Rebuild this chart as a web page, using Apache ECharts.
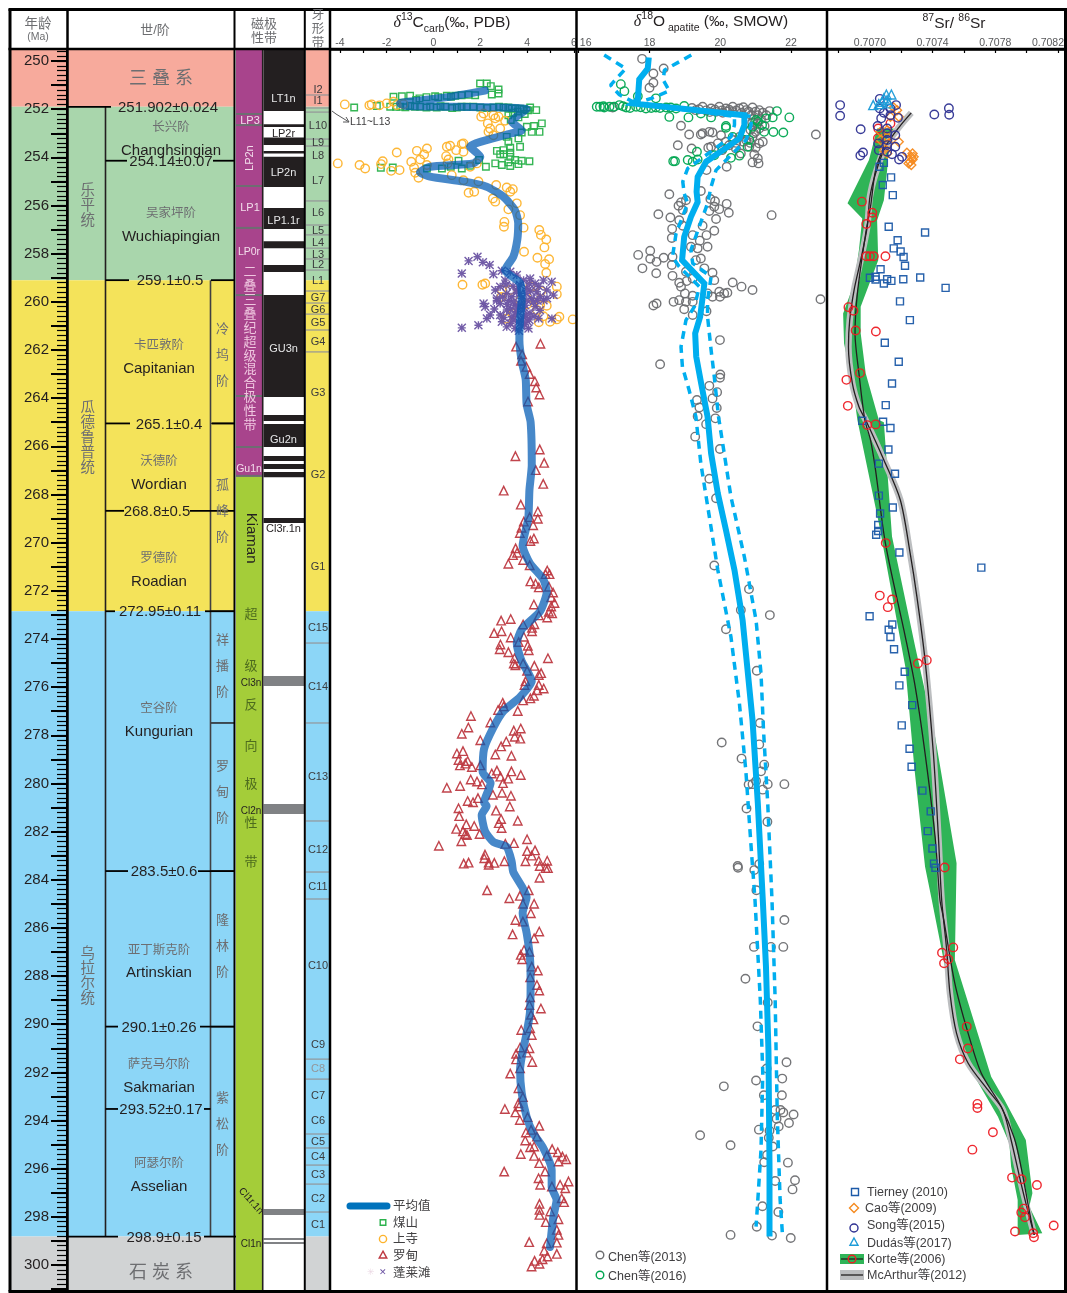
<!DOCTYPE html>
<html><head><meta charset="utf-8">
<style>html,body{margin:0;padding:0;background:#fff}#c{width:1067px;height:1293px}</style>
<script src="https://cdn.jsdelivr.net/npm/echarts@6/dist/echarts.min.js"></script>
</head><body><div id="c"></div>
<script>
// ---------- values: [value, age Ma] ----------
const ageLabels=[250,252,254,256,258,260,262,264,266,268,270,272,274,276,278,280,282,284,286,288,290,292,294,296,298,300];
const periodEdges=[249.5,251.902,259.1,272.85,298.82,301.08];
const epochs=[['乐\n平\n统',255.98],['瓜\n德\n鲁\n普\n统',265.61],['乌\n拉\n尔\n统',287.96]];
const systems=[['三叠系',250.71],['石炭系',300.3]];
const boundaries=[[251.902,'251.902±0.024'],[254.14,'254.14±0.07'],[259.1,'259.1±0.5'],[265.05,'265.1±0.4'],[268.68,'268.8±0.5'],[272.85,'272.95±0.11'],[283.64,'283.5±0.6'],[290.1,'290.1±0.26'],[293.52,'293.52±0.17'],[298.82,'298.9±0.15']];
const stages=[['长兴阶','Changhsingian',252.74,253.7],['吴家坪阶','Wuchiapingian',256.31,257.27],['卡匹敦阶','Capitanian',261.79,262.75],['沃德阶','Wordian',266.61,267.57],['罗德阶','Roadian',270.6,271.59],['空谷阶','Kungurian',276.87,277.82],['亚丁斯克阶','Artinskian',286.88,287.83],['萨克马尔阶','Sakmarian',291.65,292.6],['阿瑟尔阶','Asselian',295.76,296.72]];
const substages=[['冷\n坞\n阶',262.17],['孤\n峰\n阶',268.65],['祥\n播\n阶',275.08],['罗\n甸\n阶',280.32],['隆\n林\n阶',286.71],['紫\n松\n阶',294.14]];
const substageLines=[265.05,272.85,277.49,283.64,290.1];
const magBands=[[249.5,267.23,'purple'],[267.23,301.08,'green']];
const magLines=[252.2,252.66,255.19,256.93,259.72,263.91,266.03,267.23];
const magLabels=[['LP3',252.45,0],['LP2n',253.99,90],['LP1',256.06,0],['LP0r',257.89,0],['Gu1n',266.9,0]];
const magMixed=['二\n叠\n三\n叠\n纪\n超\n级\n混\n合\n极\n性\n带',261.92];
const kiaman=[['Kiaman',269.77,-90,15],['超',272.92,0,13],['级',275.12,0,13],['反',276.74,0,13],['向',278.41,0,13],['极',280.02,0,13],['性',281.64,0,13],['带',283.26,0,13],['Cl3n',275.79,0,10],['Cl2n',281.1,0,10],['Cl1r.1n',297.3,-48,10],['Cl1n',299.09,0,10]];
const polarityNormal=[[249.5,252.08],[252.62,252.74],[253.18,253.49],[253.74,253.84],[253.97,255.23],[256.1,256.98],[257.48,257.77],[258.47,258.76],[259.72,263.95],[264.7,264.95],[265.07,266.03],[266.4,266.61],[266.74,266.94],[267.07,267.28],[268.98,269.19]];
const polarityGray=[[275.54,275.95],[280.85,281.27],[297.67,297.92],[298.88,298.96],[299.04,299.13]];
const polarityLabels=[['LT1n',251.54,1],['LP2r',253.0,0],['LP2n',254.61,1],['LP1.1r',256.6,1],['GU3n',261.92,1],['Gu2n',265.7,1],['Cl3r.1n',269.4,0]];
const zoneLines=[251.41,251.95,252.12,253.24,253.53,255.81,256.81,257.22,257.77,258.22,258.68,259.55,260.05,260.51,261.17,262.08,274.17,277.49,281.56,283.68,284.8,291.45,292.28,294.56,295.14,295.85,296.64,297.8];
const zoneLabels=[['I2',251.16],['I1',251.62],['L10',252.66],['L9',253.36],['L8',253.9],['L7',254.94],['L6',256.27],['L5',257.02],['L4',257.52],['L3',258.01],['L2',258.43],['L1',259.09],['G7',259.8],['G6',260.3],['G5',260.84],['G4',261.63],['G3',263.75],['G2',267.15],['G1',270.97],['C15',273.5],['C14',275.95],['C13',279.69],['C12',282.72],['C11',284.26],['C10',287.54],['C9',290.82],['C8',291.82],['C7',292.94],['C6',293.98],['C5',294.85],['C4',295.47],['C3',296.22],['C2',297.22],['C1',298.3]];

// δ13C
const c13Mean=[[2.2,251.23],[0.6,251.5],[-1.43,251.76],[-1.15,251.87],[3.98,252.0],[3.34,252.52],[3.77,252.87],[3.34,253.0],[1.56,253.56],[2.0,253.97],[1.7,254.25],[-0.15,254.39],[-0.58,254.62],[-0.15,254.8],[1.27,255.0],[2.27,255.22],[2.98,255.63],[3.48,256.19],[3.62,256.74],[3.58,257.43],[3.41,258.13],[3.06,258.68],[3.7,259.22],[3.77,259.93],[3.7,260.76],[3.67,261.59],[3.77,262.47],[3.94,263.22],[3.98,264.26],[4.15,264.99],[4.2,266.78],[4.1,267.82],[4.05,269.0],[3.81,270.12],[4.12,270.86],[4.69,271.52],[4.84,272.04],[4.55,272.86],[3.77,273.6],[3.56,274.19],[3.77,274.93],[4.2,275.75],[3.7,276.41],[2.98,277.01],[2.56,277.68],[2.16,278.57],[2.1,279.53],[2.44,279.98],[2.16,280.79],[2.27,280.94],[2.06,281.31],[2.2,281.98],[2.56,282.43],[3.13,282.64],[3.34,283.24],[3.41,283.68],[3.98,284.72],[3.81,285.38],[3.98,286.21],[4.12,287.21],[4.15,288.29],[4.12,289.53],[3.98,290.37],[3.77,291.36],[3.7,291.9],[3.77,292.86],[3.98,293.85],[4.26,294.52],[4.69,295.14],[5.05,296.05],[5.05,296.76],[5.26,297.3],[5.12,298.0],[4.98,299.25]];
const c13Meishan=[[1.99,250.93],[2.28,250.93],[2.45,251.04],[2.78,251.18],[2.78,251.35],[2.49,251.39],[1.78,251.42],[0.57,251.44],[0.07,251.46],[0.93,251.44],[-1,251.44],[-1.35,251.46],[-1.71,251.48],[-0.74,251.62],[-3.39,251.93],[-2.42,251.87],[-1.85,251.9],[-1.42,251.9],[-1,251.87],[-0.57,251.9],[-0.14,251.9],[0.14,251.93],[0.5,251.9],[1,251.93],[1.42,251.9],[2,251.93],[2.56,251.93],[2.99,251.93],[3.35,251.97],[3.7,251.98],[3.99,252.04],[4.39,252.04],[4.13,251.93],[3.2,252.25],[3.63,252.34],[3.99,252.73],[4.3,252.7],[4.63,252.59],[4.2,252.94],[4.53,252.94],[3.77,252.97],[3.13,253.15],[3.2,253.35],[3.63,253.21],[3.7,253.56],[3.28,253.6],[2.99,253.7],[2.71,253.73],[3.28,253.81],[2.85,253.87],[3.0,253.87],[3.28,253.98],[4.1,254.16],[3.77,254.14],[3.49,254.11],[3.2,254.21],[2.64,254.25],[2.92,254.32],[3.28,254.36],[3.63,254.28],[2.24,254.39],[1.95,254.11],[1.07,254.14],[1.57,254.35],[1.21,254.46],[-0.28,254.46],[-1.74,254.42],[-2.25,254.43],[0.36,254.46],[0.74,254.39],[0.3,251.88],[0.8,251.95],[1.2,251.9],[1.7,251.9],[2.3,251.95],[2.8,251.9],[3.2,251.93],[3.5,251.97],[3.85,252.0],[4.05,252.05],[3.9,252.2],[3.6,252.1],[3.3,252.45],[3.4,252.15],[-0.3,251.93],[-0.8,251.9],[-1.2,251.92],[-1.6,251.9],[0.2,251.5],[0.75,251.48],[1.2,251.42],[1.5,251.4],[-0.3,251.5],[-0.6,251.55]];
const c13Shangsi=[[-3.79,251.8],[-4.09,254.25],[-3.16,254.32],[-2.92,254.46],[-2.74,251.84],[-2.64,251.8],[-2.31,251.84],[-2,251.76],[-1.71,251.69],[-1.57,251.83],[-1.28,251.79],[-2.17,254.16],[-2.24,254.28],[-1.81,254.56],[-1.45,254.53],[-1.57,253.8],[-0.95,254.18],[-0.71,253.73],[-0.57,254.09],[-0.4,253.88],[-0.28,253.63],[-0.83,254.43],[-0.78,254.64],[-0.64,254.85],[-0.28,254.32],[0.57,253.56],[0.71,253.52],[0.54,253.95],[0.64,254.09],[0.6,254.25],[1.21,253.45],[1.28,253.42],[0.97,253.7],[1.28,253.77],[1.85,254.25],[1.57,254.39],[0.78,254.74],[1.28,254.95],[1.92,255.0],[1.5,255.47],[1.74,255.43],[2.68,255.15],[2.54,255.71],[2.64,255.84],[3.13,255.25],[3.39,255.32],[3.28,255.43],[3.56,255.91],[3.2,256.16],[3.7,256.4],[3.03,256.68],[3.01,256.88],[3.85,256.92],[4.52,257.02],[4.59,257.22],[4.82,257.41],[4.74,257.74],[3.87,257.92],[4.44,258.17],[4.94,258.23],[4.77,258.43],[4.82,258.79],[1.24,259.29],[2.09,259.29],[2.21,259.24],[2.92,259.51],[5.27,259.37],[5.27,259.68],[4.84,260.16],[4.56,260.14],[4.42,260.34],[4.13,259.37],[3.28,259.51],[4.98,260.83],[5.27,260.73],[5.38,260.62],[5.95,260.73],[2.04,252.31],[2.14,252.18],[2.56,252.25],[2.78,252.31],[2.32,252.59],[2.42,252.8],[2.85,252.8],[2.56,253.08],[2.35,252.94],[2.64,252.38],[3.06,252.48],[4.3,259.7],[4.6,259.55],[4.0,260.1],[3.4,260.5],[4.7,260.6],[2.9,259.8],[3.1,260.7],[4.5,260.85],[3.7,259.95]];
const c13Luodian=[[3.53,261.86],[4.57,261.74],[3.79,262.18],[3.74,262.45],[3.97,262.7],[4.11,263.0],[4.33,263.3],[4.39,263.56],[4.53,263.85],[4.04,264.14],[4.54,266.13],[3.5,266.41],[4.73,266.69],[4.37,266.99],[4.69,267.56],[3.0,267.84],[3.73,268.42],[4.46,268.71],[4.46,269.01],[4.11,268.94],[3.86,269.13],[4.26,269.28],[3.76,269.38],[3.69,269.6],[4.29,269.83],[4.14,269.93],[3.51,270.24],[3.57,270.42],[3.4,270.52],[3.83,270.72],[3.2,270.88],[4.11,270.94],[4.86,271.16],[4.79,271.31],[4.96,271.31],[4.14,271.61],[4.36,271.71],[4.5,271.86],[4.93,271.83],[5.11,272.07],[5.03,272.27],[5.17,272.51],[4.29,272.57],[5.03,272.65],[4.93,272.87],[5.07,272.94],[4.5,273.02],[4.86,273.11],[3.3,273.17],[2.89,273.24],[3.83,273.4],[4.31,273.39],[4.21,273.54],[4.21,273.68],[2.59,273.76],[2.91,273.68],[3.86,273.91],[3.3,273.94],[2.86,274.23],[3.64,274.13],[4.03,274.28],[2.83,274.43],[3.2,274.55],[4.07,274.47],[3.46,274.8],[3.43,275.02],[3.5,275.09],[4.89,274.8],[3.83,275.02],[4.31,275.12],[4.0,275.32],[4.6,275.42],[4.5,275.5],[3.93,275.76],[3.89,275.91],[4.5,275.91],[4.71,276.06],[4.43,276.13],[4.29,276.36],[4.14,276.47],[3.83,276.55],[2.96,276.65],[3.0,276.8],[2.76,276.95],[3.6,276.99],[1.6,277.2],[2.43,277.47],[1.49,277.68],[3.73,277.72],[3.43,277.81],[1.21,277.94],[3.47,278.06],[3.71,278.14],[2.0,278.21],[3.11,278.26],[2.89,278.46],[1.26,278.66],[1.0,278.76],[2.64,278.8],[3.33,278.85],[1.07,279.03],[1.46,279.07],[1.36,279.18],[1.13,279.25],[1.64,279.32],[2.0,279.25],[2.71,279.47],[3.33,279.5],[2.49,279.59],[3.73,279.65],[2.86,279.72],[3.19,279.8],[1.59,279.84],[1.86,279.92],[2.97,279.99],[2.07,280.04],[1.14,280.11],[0.57,280.18],[2.93,280.39],[2.54,280.47],[3.31,280.51],[1.9,280.61],[1.46,280.73],[1.69,280.78],[3.26,280.96],[1.07,281.03],[2.67,281.13],[1.1,281.36],[2.89,281.48],[2.79,281.65],[1.4,281.7],[3.6,281.55],[2.91,281.85],[0.97,281.89],[1.74,281.77],[1.26,281.99],[1.36,282.1],[1.43,282.14],[1.97,282.1],[4.0,282.32],[1.19,282.4],[3.44,282.48],[0.23,282.59],[3.07,282.51],[4.0,282.81],[4.34,282.78],[4.2,283.0],[2.2,282.96],[2.17,283.11],[2.36,283.29],[2.6,283.3],[1.5,283.29],[1.29,283.33],[2.36,283.38],[3.03,283.23],[3.93,283.23],[4.5,283.21],[4.86,283.21],[4.54,283.43],[4.79,283.52],[4.89,283.52],[4.53,283.92],[2.29,284.44],[4.07,284.44],[3.24,284.77],[3.69,284.67],[3.82,285.0],[4.3,285.0],[4.16,285.39],[3.5,285.67],[3.82,285.74],[4.52,286.15],[3.38,286.27],[4.3,286.43],[3.87,286.92],[4.1,286.99],[3.73,287.12],[3.79,287.3],[4.2,287.61],[4.46,287.77],[4.13,288.05],[4.42,288.37],[4.52,288.6],[4.13,288.88],[4.1,289.2],[4.59,289.35],[4.17,289.61],[4.27,289.8],[3.75,290.24],[4.13,290.17],[4.2,290.45],[4.1,291.0],[3.7,290.97],[3.53,291.23],[3.99,291.18],[3.53,291.46],[4.22,291.57],[3.7,291.83],[3.28,292.05],[3.63,292.66],[3.82,293.03],[3.63,293.28],[3.66,293.42],[3.05,293.52],[3.5,293.66],[3.69,293.98],[4.02,293.86],[4.52,294.22],[4.17,294.39],[3.95,294.5],[3.92,294.83],[4.42,294.67],[4.13,295.11],[4.3,295.08],[5.07,295.19],[3.73,295.39],[4.3,295.47],[4.84,295.47],[5.31,295.32],[5.51,295.5],[5.67,295.61],[5.34,295.7],[4.52,295.77],[3.02,296.12],[4.77,296.12],[4.49,296.4],[4.56,296.67],[5.41,296.67],[5.77,296.53],[5.06,296.74],[5.63,296.81],[5.48,297.23],[5.58,297.39],[4.53,297.46],[4.53,297.71],[4.53,297.92],[4.99,297.78],[5.34,298.1],[4.8,298.22],[5.27,298.54],[5.34,298.75],[4.09,299.05],[4.84,299.1],[5.27,299.07],[4.73,299.41],[5.27,299.54],[4.87,299.65],[4.66,299.76],[4.32,299.83],[4.53,299.95],[4.19,300.06]];
const c13Penglaitan=[[1.5,258.3],[1.88,258.13],[2.11,258.36],[2.4,258.47],[1.21,258.82],[2.56,258.85],[2.92,258.71],[3.28,258.75],[3.56,258.89],[4.13,259.03],[4.7,259.1],[5.05,259.17],[3.06,259.1],[3.85,259.1],[4.34,259.24],[2.64,259.51],[2.85,259.37],[3.13,259.65],[3.56,259.51],[3.99,259.44],[4.42,259.58],[4.84,259.51],[2.71,259.86],[3.35,259.79],[3.77,259.86],[4.2,259.86],[4.7,259.93],[5.13,259.72],[2.14,260.07],[2.85,260.07],[2.21,260.2],[3.49,260.14],[3.92,260.14],[4.34,260.2],[3.13,260.34],[3.56,260.41],[4.13,260.48],[2.85,260.55],[3.35,260.62],[2.42,260.55],[2.28,260.69],[3.85,260.62],[4.49,260.69],[5.06,260.69],[2.92,260.83],[3.63,260.83],[3.13,261.04],[1.92,260.97],[1.21,261.08],[4.06,261.11],[3.49,261.11],[3.77,260.76],[3.7,259.65],[3.99,259.93],[3.42,260.0],[3.85,260.34],[4.27,260.0],[4.56,259.79],[3.2,259.95],[3.6,260.25],[4.0,260.8],[3.3,260.9],[3.1,259.3],[3.4,259.35],[3.7,259.3],[4.1,259.25],[4.5,259.35],[2.95,259.8],[3.15,260.1],[3.3,260.3],[3.5,260.55],[3.7,260.1],[3.95,260.55],[4.1,260.75],[3.4,260.75],[3.75,261.0],[3.9,260.95],[2.6,260.3],[2.7,259.95],[4.55,260.35],[4.3,260.6],[4.45,259.95],[4.85,259.85],[3.0,260.65],[3.65,261.2],[3.55,259.6],[3.95,259.65],[4.15,259.55]];

// δ18O
const o18Mean=[[17.98,249.85],[17.95,250.31],[17.71,250.76],[17.67,251.62],[17.53,251.76],[20.68,252.25],[20.68,252.66],[20.54,253.21],[20.07,253.7],[19.6,254.18],[19.36,254.81],[19.33,255.43],[19.36,255.85],[19.17,256.47],[18.98,257.3],[18.92,258.27],[19.55,259.24],[19.43,260.62],[19.29,261.31],[19.32,262.28],[19.46,263.39],[19.64,264.77],[19.74,266.29],[19.93,267.96],[20.16,269.48],[20.4,271.14],[20.63,273.22],[20.77,275.29],[20.91,277.37],[21.06,280.83],[21.2,284.84],[21.29,287.61],[21.36,291.07],[21.39,295.91],[21.39,298.82]];
const o18Left=[[16.72,249.75],[17.33,250.31],[16.9,251.0],[17.15,251.4],[17.62,251.76],[20.4,252.3],[20.4,252.66],[20.3,253.15],[19.7,253.8],[19.08,254.46],[18.94,255.01],[18.98,255.5],[19.08,255.91],[18.75,257.16],[18.65,258.13],[18.84,258.54],[19.41,259.37],[19.27,260.2],[19.03,260.76],[18.89,261.87],[18.93,262.7],[19.12,263.67],[19.31,264.77],[19.45,266.71],[19.69,268.92],[19.93,271.14],[20.3,273.91],[20.54,276.68],[20.72,279.45],[20.87,282.63],[20.98,284.84],[21.13,288.99],[21.2,292.04],[21.15,295.22],[21.06,297.3],[21.01,298.41]];
const o18Right=[[19.18,249.75],[18.42,250.38],[18.39,250.79],[18.56,251.24],[18.05,251.55],[17.62,251.76],[20.87,252.3],[20.87,252.66],[20.73,253.28],[19.88,254.53],[19.74,255.22],[19.64,255.91],[19.4,256.9],[19.17,257.85],[19.22,258.4],[19.74,258.96],[19.64,259.93],[19.64,260.62],[19.74,262.0],[19.83,263.11],[19.95,264.77],[20.3,268.09],[20.68,270.59],[21.01,273.22],[21.15,275.43],[21.22,277.78],[21.34,280.83],[21.46,284.84],[21.55,288.99],[21.61,293.84],[21.69,297.3],[21.76,298.82]];
const o18Chen2013=[[17.79,249.91],[18.4,250.31],[18.11,250.52],[18.11,250.9],[18.0,251.11],[16.96,251.93],[19.31,252.04],[19.5,251.9],[19.74,251.97],[19.97,251.9],[20.16,251.97],[20.35,251.9],[20.54,251.97],[20.73,252.04],[20.91,251.93],[21.1,252.04],[21.39,252.08],[20.87,252.25],[21.06,252.25],[19.88,252.11],[20.07,252.15],[20.35,252.11],[18.89,252.69],[19.12,253.05],[19.45,253.05],[19.5,253.0],[19.69,252.94],[19.78,252.97],[20.02,253.08],[22.7,253.05],[18.8,253.5],[19.19,253.63],[19.74,253.56],[19.66,253.6],[19.93,253.42],[20.16,253.35],[20.35,253.28],[20.54,253.15],[20.73,253.28],[20.91,253.15],[21.1,253.42],[21.2,253.35],[21.0,252.94],[20.82,253.56],[20.44,253.63],[20.58,253.84],[20.96,253.88],[21.06,254.05],[20.91,254.21],[21.08,254.25],[20.18,254.39],[19.61,254.53],[18.56,255.53],[19.45,255.4],[19.72,255.73],[19.85,255.82],[20.18,255.93],[19.03,255.78],[18.89,255.87],[18.82,256.01],[18.94,256.19],[19.97,256.15],[19.83,256.05],[19.69,256.23],[20.24,256.3],[21.45,256.4],[18.25,256.36],[18.59,256.5],[19.88,256.56],[18.84,256.61],[18.94,256.84],[19.5,256.84],[18.64,256.97],[19.83,257.05],[19.22,257.23],[19.61,257.23],[18.63,257.35],[19.42,257.46],[19.64,257.71],[19.17,257.71],[19.36,257.78],[18.02,257.88],[17.68,258.05],[18.02,258.21],[18.2,258.34],[18.4,258.17],[18.65,258.13],[19.45,258.2],[19.31,258.27],[18.63,258.47],[17.8,258.61],[18.19,258.81],[18.65,258.92],[19.03,258.75],[19.55,258.61],[19.78,258.79],[19.83,259.1],[19.22,259.03],[19.05,259.14],[18.84,259.21],[18.89,259.37],[20.35,259.2],[20.6,259.37],[20.91,259.51],[19.97,259.58],[20.11,259.65],[20.2,259.62],[19.99,259.79],[19.78,259.79],[19.64,259.65],[19.0,259.65],[19.22,259.75],[18.68,260.0],[18.84,259.93],[19.03,260.0],[19.22,260.0],[18.2,260.07],[18.11,260.15],[22.83,259.89],[18.98,260.31],[19.61,260.39],[19.22,260.55],[19.99,261.59],[18.3,262.59],[20.0,263.02],[19.99,263.15],[19.69,263.49],[19.91,263.75],[19.78,264.01],[19.34,264.08],[19.41,264.39],[19.9,264.41],[19.36,264.75],[19.86,264.84],[19.6,265.08],[19.29,265.6],[19.99,266.11],[19.69,267.35],[19.88,268.16],[19.83,270.95],[20.81,271.93],[20.58,272.8],[21.4,273.01],[20.16,273.6],[21.03,275.32],[21.12,277.49],[20.04,278.3],[21.1,278.38],[20.6,278.97],[21.24,279.22],[21.15,279.5],[21.01,279.9],[20.91,280.03],[20.8,280.05],[21.34,280.03],[21.81,280.03],[21.2,280.26],[20.74,281.04],[21.33,281.59],[20.49,283.43],[20.5,283.5],[20.96,283.6],[21.1,283.35],[21.02,284.44],[21.81,285.67],[20.95,286.79],[21.43,286.79],[21.78,286.79],[20.71,288.11],[21.34,289.1],[21.05,290.09],[21.87,291.58],[21.31,291.84],[21.01,292.34],[21.75,292.26],[20.1,292.58],[21.23,292.95],[21.74,292.95],[21.55,293.56],[21.7,293.56],[21.78,293.67],[22.07,293.75],[21.59,293.93],[21.94,294.1],[21.65,294.25],[21.09,294.38],[21.39,294.42],[21.37,294.72],[19.43,294.61],[20.29,295.03],[21.48,295.08],[21.32,295.43],[21.24,295.73],[21.91,295.75],[21.55,296.51],[22.11,296.48],[22.04,296.86],[21.19,297.56],[21.64,297.8],[21.03,298.41],[20.29,298.75],[21.46,298.78],[21.99,298.88],[19.2,251.95],[19.4,252.0],[19.6,252.05],[19.85,252.02],[20.05,252.05],[20.25,252.02],[20.45,252.05],[20.65,251.92],[20.8,252.1],[21.0,252.1],[21.2,252.15],[21.3,252.25],[20.6,252.15],[20.2,252.1],[19.7,252.12],[21.15,252.42],[20.95,252.4],[21.05,252.6],[20.9,252.55],[21.1,252.8],[20.85,252.85],[21.25,252.7],[20.95,253.0],[20.65,253.35],[20.45,253.4],[20.25,253.5],[20.05,253.7],[20.85,253.4],[21.0,253.6]];
const o18Chen2016=[[17.19,250.96],[17.29,251.25],[17.67,251.46],[18.18,251.55],[16.51,251.9],[16.6,251.9],[16.72,251.93],[16.87,251.9],[17.15,251.83],[17.34,251.93],[17.62,251.9],[17.9,251.97],[18.18,251.93],[18.47,251.93],[18.75,251.97],[18.98,251.87],[19.45,252.18],[18.56,252.32],[19.1,252.34],[19.74,252.34],[20.16,252.7],[20.16,252.77],[21.6,252.08],[21.95,252.34],[21.48,252.34],[21.29,252.38],[21.06,252.52],[21.5,252.95],[21.78,252.97],[21.24,252.94],[20.91,252.73],[20.73,252.94],[20.82,253.28],[20.35,253.15],[20.07,253.63],[19.83,253.91],[20.54,253.93],[20.3,254.02],[19.34,253.77],[19.08,254.11],[19.22,254.18],[19.36,254.09],[18.67,254.16],[18.72,254.16],[20.77,253.56],[21.01,252.45],[21.18,252.66],[17.0,251.9],[17.25,251.88],[17.45,251.95],[17.75,251.92],[18.05,251.95],[18.3,251.95],[18.6,251.93],[16.7,251.88]];

// 87Sr/86Sr
const srMcArthur=[[0.707264,252.15],[0.707188,252.73],[0.707099,253.56],[0.707036,254.67],[0.7070,255.64],[0.706983,256.88],[0.706941,258.27],[0.706899,259.51],[0.706871,260.76],[0.706863,261.87],[0.706888,263.39],[0.70693,264.36],[0.706973,264.91],[0.707089,266.57],[0.707194,268.23],[0.707257,270.45],[0.7073,272.25],[0.707352,274.88],[0.707405,278.75],[0.707437,282.21],[0.707458,284.84],[0.70749,286.92],[0.707511,288.72],[0.707553,290.38],[0.707627,291.62],[0.707753,292.73],[0.707848,293.56],[0.707901,294.81],[0.707964,296.6],[0.708006,297.71],[0.708049,298.75]];
const srKorte=[[0.707089,253.56],[0.707036,254.53],[0.707004,256.05],[0.706973,257.16],[0.70692,259.65],[0.706905,261.31],[0.70693,262.97],[0.706968,264.91],[0.707004,265.74],[0.707036,266.99],[0.707099,270.03],[0.707226,273.91],[0.707289,275.98],[0.707352,278.75],[0.707416,282.21],[0.707447,284.84],[0.707468,285.53],[0.707542,288.3],[0.707627,290.38],[0.707711,292.04],[0.707838,293.42],[0.707922,294.74],[0.707964,295.91],[0.708028,298.13],[0.708049,298.75]];
const srBandLeft=[[0.707046,252.8],[0.706994,254.11],[0.706857,255.91],[0.706951,256.54],[0.70693,257.85],[0.706899,259.24],[0.706829,260.48],[0.706835,261.73],[0.706888,263.39],[0.70692,264.91],[0.707057,269.2],[0.707226,275.15],[0.707285,279.44],[0.707352,283.46],[0.707395,284.84],[0.707458,286.92],[0.707521,289.0],[0.707553,290.65],[0.707669,292.18],[0.707817,293.84],[0.70789,294.95],[0.707901,295.91],[0.707943,297.3],[0.707943,298.75]];
const srBandRight=[[0.707152,252.8],[0.70712,253.56],[0.70711,254.53],[0.707089,255.78],[0.707046,256.61],[0.707053,258.27],[0.706941,260.2],[0.706941,261.31],[0.706973,262.97],[0.707057,264.91],[0.707089,265.0],[0.707141,269.75],[0.707289,274.32],[0.707416,278.06],[0.707553,283.32],[0.707549,284.84],[0.707542,287.33],[0.707648,289.55],[0.707774,292.18],[0.707859,293.15],[0.707995,294.81],[0.708037,297.02],[0.708017,297.57],[0.7081,298.68]];
const srTierney=[[0.707089,254.23],[0.707061,254.39],[0.707135,254.83],[0.707082,255.15],[0.707146,255.57],[0.70712,256.88],[0.707352,257.12],[0.707177,257.44],[0.707152,257.78],[0.707196,257.91],[0.707215,258.14],[0.707224,258.5],[0.707068,258.65],[0.707321,258.99],[0.707213,259.06],[0.7070,259.0],[0.707036,258.96],[0.707036,259.07],[0.70711,259.06],[0.707137,259.13],[0.707089,259.24],[0.707483,259.42],[0.707192,259.98],[0.707255,260.76],[0.707095,261.7],[0.707184,262.49],[0.707141,263.39],[0.707101,264.29],[0.706951,264.94],[0.707084,264.98],[0.707131,265.24],[0.707118,266.13],[0.707057,266.72],[0.70716,267.14],[0.707057,268.05],[0.707146,268.54],[0.707065,268.79],[0.707053,269.27],[0.707053,269.52],[0.70704,269.67],[0.707188,270.41],[0.707711,271.04],[0.706998,273.06],[0.707143,273.4],[0.70712,273.62],[0.707131,273.92],[0.707154,274.43],[0.707222,275.36],[0.707188,275.93],[0.70727,276.75],[0.707203,277.59],[0.707253,278.56],[0.707266,279.31],[0.707335,280.3],[0.707388,281.16],[0.707369,281.98],[0.707399,282.7],[0.707409,283.33],[0.707418,283.5]];
const srKorteDots=[[0.707053,252.8],[0.707131,252.59],[0.707051,253.21],[0.706949,255.84],[0.707015,256.3],[0.707015,256.5],[0.706977,256.77],[0.706977,258.11],[0.7070,258.11],[0.707025,258.11],[0.707099,258.11],[0.706863,260.22],[0.706895,260.37],[0.706909,261.19],[0.707038,261.23],[0.706937,262.96],[0.70685,263.24],[0.706859,264.32],[0.706983,265.12],[0.707036,265.09],[0.707101,270.02],[0.707063,272.2],[0.707141,272.36],[0.707114,272.68],[0.707363,274.88],[0.707306,275.02],[0.707477,283.49],[0.707532,286.81],[0.70746,287.03],[0.7075,287.3],[0.707473,287.47],[0.707618,290.1],[0.707625,291.01],[0.707574,291.46],[0.707686,293.31],[0.707686,293.48],[0.707785,294.49],[0.707654,295.21],[0.707907,296.37],[0.707968,296.44],[0.708066,296.68],[0.707981,297.66],[0.707966,297.82],[0.707989,298.02],[0.707926,298.61],[0.708173,298.36],[0.708042,298.68],[0.708047,298.85]];
const srSong=[[0.70681,251.83],[0.70681,252.27],[0.706941,252.83],[0.707063,251.57],[0.707063,251.97],[0.707089,252.15],[0.707131,251.97],[0.707167,251.83],[0.707179,252.36],[0.707131,252.25],[0.707072,252.38],[0.707411,252.22],[0.707504,251.96],[0.707506,252.23],[0.707049,252.7],[0.70711,252.8],[0.70711,253.0],[0.707162,253.08],[0.70711,253.28],[0.707053,253.42],[0.70711,253.49],[0.707162,253.56],[0.707057,253.7],[0.70711,253.77],[0.706956,253.8],[0.706939,253.92],[0.707141,253.87],[0.707205,253.98],[0.707186,254.09]];
const srCao=[[0.707152,251.93],[0.707173,252.04],[0.707131,252.31],[0.707184,252.31],[0.707068,252.94],[0.70711,252.87],[0.70711,253.15],[0.707068,253.28],[0.70712,253.42],[0.707184,253.35],[0.707089,253.7],[0.70711,253.84],[0.707236,253.81],[0.707272,253.84],[0.707264,253.98],[0.707272,254.09],[0.707257,254.18],[0.707279,253.98],[0.707264,254.32],[0.707247,254.25]];
const srDudas=[[0.707021,251.83],[0.707057,251.79],[0.707078,251.69],[0.707105,251.39],[0.707137,251.39],[0.70711,251.62],[0.707089,251.55],[0.70712,251.76]];

// ---------- layout and style (not data) ----------
const FONT='"Liberation Sans","Noto Sans CJK SC",sans-serif';
const TOP=49,H=1242,YMIN=249.5,YMAX=301.08;
const INK='#231F20',CN='#6D6E71';
const PERIOD=['#F7AA9C','#A9D6AC','#F4E35A','#8CD6F7','#D1D3D4'];
const X={ageL:11,ageR:67,epochL:68,stageL:105.5,subL:210.5,stageR:234,magL:236,magR:262,polL:263.5,polR:304,zoneL:306,zoneR:330};
const BOUNDARY_LAYOUT={ // label centre x and line segments, px
 '251.902':[168,[[68,111]]],'254.14':[171,[[105.5,127],[213,234]]],'259.1':[170,[[105.5,129],[211,234]]],
 '265.1':[169,[[105.5,130],[212,234]]],'268.8':[157,[[105.5,124],[190,234]]],'272.95':[160,[[105.5,115],[205,234]]],
 '283.5':[164,[[105.5,128],[198,234]]],'290.1':[159,[[105.5,118],[200,234]]],'293.52':[161,[[105.5,118],[204,210.5]]],'298.9':[164,[[68,118],[204,236]]]};

const grids=[{left:11,width:56},{left:11,width:319},{left:331,width:245},{left:578.7,width:248.3},{left:828,width:238},{left:11,width:56}]
 .map(g=>({...g,top:TOP,height:H,containLabel:false}));
const hidX=i=>({type:'value',gridIndex:i,min:0,max:1,show:false});
const hidY=i=>({type:'value',gridIndex:i,min:YMIN,max:YMAX,inverse:true,show:false});
const range=(a,b,s)=>{const o=[];for(let i=0;a+i*s<=b+1e-9;i++)o.push(+(a+i*s).toFixed(6));return o;};
const topAxis=(i,min,max,labels,ticks,fmt)=>({type:'value',gridIndex:i,position:'top',min,max,z:10,splitLine:{show:false},
 axisLine:{show:true,onZero:false,lineStyle:{color:'#000',width:2.5}},
 axisTick:{show:true,inside:true,length:4,customValues:ticks,lineStyle:{color:'#000',width:1.2}},
 axisLabel:{show:true,customValues:labels,margin:1,fontFamily:FONT,fontSize:10.5,color:'#58595B',formatter:fmt,
   rich:{l:{fontFamily:FONT,fontSize:10.5,color:'#58595B',padding:[0,0,0,14]},r:{fontFamily:FONT,fontSize:10.5,color:'#58595B',padding:[0,20,0,0]}}}});

const xAxes=[hidX(0),hidX(1),
 topAxis(2,-4.38,6.09,[-4,-2,0,2,4,6],range(-4,6,1),v=>String(v)),
 topAxis(3,16,23.014,[16,18,20,22],[16,18,20,22],v=>v===16?'{l|16}':String(v)),
 topAxis(4,0.7067325,0.7082375,[0.7070,0.7074,0.7078,0.7082],range(0.7068,0.7082,0.0002),v=>v>0.70815?'{r|0.7082}':v.toFixed(4)),
 hidX(5)];
const yAxes=[
 {type:'value',gridIndex:0,min:YMIN,max:YMAX,inverse:true,position:'right',z:10,splitLine:{show:false},
  axisLine:{show:true,onZero:false,lineStyle:{color:'#000',width:2}},
  axisTick:{show:true,inside:true,length:16,customValues:range(250,301,1),lineStyle:{color:'#000',width:2}},
  axisLabel:{show:true,inside:true,margin:18,padding:[2,0,0,0],customValues:ageLabels,fontFamily:FONT,fontSize:15,color:INK}},
 {type:'value',gridIndex:5,min:YMIN,max:YMAX,inverse:true,position:'right',z:10,splitLine:{show:false},
  axisLine:{show:false,onZero:false},axisLabel:{show:false},
  axisTick:{show:true,inside:true,length:10,customValues:range(249.6,301,0.2),lineStyle:{color:'#000',width:1.2}}},
 hidY(1),hidY(2),hidY(3),hidY(4)];

// custom layer helper: y through the axis, column x from layout
function layer(rows,draw,z,xi=1,yi=2){
 return {type:'custom',coordinateSystem:'cartesian2d',xAxisIndex:xi,yAxisIndex:yi,z,silent:true,clip:false,
  data:rows.map(()=>[0.5,260]),
  renderItem:(p,api)=>draw(rows[p.dataIndex],a=>api.coord([0.5,a])[1],api)};
}
const rect=(x0,x1,y0,y1,fill)=>({type:'rect',shape:{x:x0,y:y0,width:x1-x0,height:y1-y0},style:{fill}});
const hline=(x0,x1,y,stroke,w)=>({type:'line',shape:{x1:x0,y1:y,x2:x1,y2:y},style:{stroke,lineWidth:w}});
const txt=(s,x,y,size,fill,o={})=>({type:'text',x,y:y+1,rotation:(o.rot||0)*Math.PI/180,style:{text:s,fill,fontFamily:FONT,fontSize:size,align:'center',verticalAlign:'middle',lineHeight:o.lh}});

const periodRows=PERIOD.map((c,i)=>[periodEdges[i],periodEdges[i+1],c]);
const series=[
 layer(periodRows,(r,y)=>({type:'group',children:[rect(X.ageL,X.stageR,y(r[0]),y(r[1]),r[2]),rect(X.zoneL,X.zoneR,y(r[0]),y(r[1]),r[2])]}),1),
 layer(magBands,(r,y)=>rect(X.magL,X.magR,y(r[0]),y(r[1]),r[2]==='purple'?'#A8448C':'#A4CD39'),1),
 layer([[YMIN,YMAX]],(r,y)=>rect(X.polL,X.polR,y(r[0]),y(r[1]),'#fff'),1),
 layer(polarityNormal,(r,y)=>rect(X.polL,X.polR,y(r[0]),y(r[1]),INK),2),
 layer(polarityGray,(r,y)=>rect(X.polL,X.polR,y(r[0]),y(r[1]),'#808285'),2),
 layer(magLines,(a,y)=>hline(X.magL,X.magR,y(a),'#6D6E71',2),3),
 layer(zoneLines,(a,y)=>hline(X.zoneL,X.zoneR,y(a),'#939598',1.2),3),
 layer(substageLines,(a,y)=>hline(X.subL,X.stageR,y(a),'#231F20',1.5),3),
 layer([[251.902,298.82]],(r,y)=>({type:'line',shape:{x1:X.stageL,y1:y(r[0]),x2:X.stageL,y2:y(r[1])},style:{stroke:INK,lineWidth:1.6}}),3),
 layer([[259.1,298.82]],(r,y)=>({type:'line',shape:{x1:X.subL,y1:y(r[0]),x2:X.subL,y2:y(r[1])},style:{stroke:'#414042',lineWidth:1.6}}),3),
 layer(boundaries,(r,y)=>{const L=BOUNDARY_LAYOUT[r[1].split('±')[0]];
   return {type:'group',children:[...L[1].map(s=>hline(s[0],s[1],y(r[0]),'#000',1.8)),txt(r[1],L[0],y(r[0]),15,INK)]};},4),
 layer(epochs,(r,y)=>txt(r[0],(X.epochL+X.stageL)/2+1,y(r[1]),14.5,CN,{lh:15}),4),
 layer(systems,(r,y)=>txt(r[0].split('').join(' '),161,y(r[1]),18,CN),4),
 layer(stages,(r,y)=>{const cx=r[2]<259.1?171:159;return {type:'group',children:[txt(r[0],cx,y(r[2]),12.5,CN),txt(r[1],cx,y(r[3]),15,INK)]};},4),
 layer(substages,(r,y)=>txt(r[0],222.5,y(r[1]),13,CN,{lh:26}),4),
 layer(magLabels,(r,y)=>txt(r[0],r[0]==='Gu1n'||r[0]==='LP0r'?249:250,y(r[1]),r[0]==='Gu1n'||r[0]==='LP0r'?10.5:11,'#F3DDEB',{rot:r[2]}),4),
 layer([magMixed],(r,y)=>txt(r[0],250,y(r[1]),13,'#EFC6DF',{lh:13.9}),4),
 layer(kiaman,(r,y)=>txt(r[0],251,y(r[1]),r[3],r[3]>10&&r[0]!=='Kiaman'?'#4D6B1E':'#231F20',{rot:r[2]}),4),
 layer(polarityLabels,(r,y)=>txt(r[0],283.5,y(r[1]),11,r[2]?'#E6E7E8':'#231F20'),4),
 layer(zoneLabels,(r,y)=>txt(r[0],318,y(r[1]),11,r[0]==='C8'?'#939598':'#3A3A3C'),4),

 // δ13C
 sc(2,c13Meishan,'rect',6.5,'#2BB24C'),sc(2,c13Shangsi,'circle',8.5,'#FDB32C'),sc(2,c13Luodian,'triangle',8.5,'#BE3A42'),
 sc(2,c13Penglaitan,'path://M0 0L10 10M10 0L0 10M5 0L5 10M0 5L10 5',8,'#6C54A3'),
 {type:'line',xAxisIndex:2,yAxisIndex:3,data:c13Mean,showSymbol:false,symbol:'none',z:6,smooth:0.2,silent:true,clip:true,lineStyle:{color:'#005AB4',width:8,opacity:0.72,cap:'round',join:'round'}},

 // δ18O
 sc(3,o18Chen2013,'circle',8.5,'#6D6E71',3),sc(3,o18Chen2016,'circle',8.5,'#00A651',3),
 dashed(o18Left),dashed(o18Right),
 {type:'line',xAxisIndex:3,yAxisIndex:4,data:o18Mean,symbol:'none',z:6,silent:true,lineStyle:{color:'#00AEEF',width:6,join:'miter'}},

 // Sr
 {type:'custom',coordinateSystem:'cartesian2d',xAxisIndex:4,yAxisIndex:5,z:2,silent:true,clip:true,data:[[0.7072,260]],
  renderItem:(p,api)=>({type:'polygon',shape:{points:[...srBandLeft,...srBandRight.slice().reverse()].map(d=>api.coord(d))},style:{fill:'#2FB457'}})},
 {type:'line',xAxisIndex:4,yAxisIndex:5,data:srMcArthur,symbol:'none',z:3,smooth:0.3,silent:true,lineStyle:{color:'#BCBEC0',width:6.5}},
 {type:'line',xAxisIndex:4,yAxisIndex:5,data:srMcArthur,symbol:'none',z:4,smooth:0.3,silent:true,lineStyle:{color:INK,width:1.3}},
 {type:'line',xAxisIndex:4,yAxisIndex:5,data:srKorte,symbol:'none',z:4,smooth:0.3,silent:true,lineStyle:{color:INK,width:1.3}},
 sc(4,srTierney,'rect',7,'#1C5AA8',5),sc(4,srKorteDots,'circle',8.5,'#ED1C24',5),sc(4,srCao,'diamond',9,'#F58A1F',5),sc(4,srSong,'circle',8.5,'#2E3192',5),sc(4,srDudas,'triangle',9,'#1C9BD8',5)
];
function sc(i,data,symbol,size,color,z=3){
 const yi=i+1;
 return {type:'scatter',xAxisIndex:i,yAxisIndex:yi,data,symbol,symbolSize:size,z,silent:true,clip:false,
  itemStyle:{color:'rgba(255,255,255,0)',borderColor:color,borderWidth:1.4,opacity:0.95}};
}
function dashed(data){
 return {type:'line',xAxisIndex:3,yAxisIndex:4,data,symbol:'none',z:5,silent:true,lineStyle:{color:'#00AEEF',width:3.5,type:[8,6]}};
}

// ---------- frame, headers, legends ----------
const vline=(x,w,y0=9,y1=1291.5,c='#000')=>({type:'line',z:50,shape:{x1:x,y1:y0,x2:x,y2:y1},style:{stroke:c,lineWidth:w}});
const gh=(x0,x1,y,w,c='#000')=>({type:'line',z:52,shape:{x1:x0,y1:y,x2:x1,y2:y},style:{stroke:c,lineWidth:w}});
const T=(s,x,y,size,fill,align='center',lh)=>({type:'text',z:53,x,y:y+1,style:{text:s,fill,fontFamily:FONT,fontSize:size,align,verticalAlign:'middle',lineHeight:lh}});
const rich=(s,x,y)=>({type:'text',z:53,x,y,style:{text:s,align:'center',verticalAlign:'middle',rich:{
  i:{fontFamily:'"Liberation Serif",serif',fontStyle:'italic',fontSize:16,lineHeight:22,fill:'#231F20'},
  n:{fontFamily:FONT,fontSize:15.5,lineHeight:22,fill:'#231F20'},
  sup:{fontFamily:FONT,fontSize:10.5,lineHeight:11,verticalAlign:'top',fill:'#231F20'},
  sub:{fontFamily:FONT,fontSize:10.5,lineHeight:11,verticalAlign:'bottom',fill:'#231F20'}}}});
const mark=(shape,x,y,r,stroke,w=1.4)=>{
 if(shape==='circle')return {type:'circle',z:53,shape:{cx:x,cy:y,r},style:{fill:'none',stroke,lineWidth:w}};
 if(shape==='rect')return {type:'rect',z:53,shape:{x:x-r,y:y-r,width:2*r,height:2*r},style:{fill:'none',stroke,lineWidth:w}};
 if(shape==='diamond')return {type:'polygon',z:53,shape:{points:[[x,y-r],[x+r,y],[x,y+r],[x-r,y]]},style:{fill:'none',stroke,lineWidth:w}};
 return {type:'polygon',z:53,shape:{points:[[x,y-r],[x+r,y+r*.8],[x-r,y+r*.8]]},style:{fill:'none',stroke,lineWidth:w}};
};
const LEG='#414042';
const graphic=[
 {type:'rect',z:0,shape:{x:0,y:0,width:1067,height:1293},style:{fill:'#fff'}},
 vline(10,3),vline(67.5,2.5),vline(234.5,2),vline(262.7,1.6,49,1291.5,'#231F20'),vline(304.8,2),vline(330,2.5),vline(576.5,2.5),vline(827,2.5),vline(1065.5,3),
 gh(8.5,1067,9.5,3),gh(8.5,1067,1291.5,3),gh(8.5,1067,49,2.5),
 T('年龄',38,23,13.5,CN),T('(Ma)',38,36,10.5,CN),T('世/阶',155,29,13,CN),T('磁极',264,23,13,CN),T('性带',264,37,13,CN),
 T('牙\n形\n带',318,29,12.5,CN,'center',14),
 rich('{i|δ}{sup|13}{n|C}{sub|carb}{n|(‰, PDB)}',452,23),
 rich('{i|δ}{sup|18}{n|O}{sub| apatite}{n| (‰, SMOW)}',711,22),
 rich('{sup|87}{n|Sr/ }{sup|86}{n|Sr}',954,24),
 // L11~L13 note
 {type:'polyline',z:53,shape:{points:[[332,111],[336,114],[349,122]]},style:{fill:'none',stroke:'#58595B',lineWidth:1}},
 {type:'polyline',z:53,shape:{points:[[343,122],[349,122],[346,117]]},style:{fill:'none',stroke:'#58595B',lineWidth:1}},
 T('L11~L13',350,121,10.5,'#414042','left'),
 // δ13C legend
 {type:'line',z:53,shape:{x1:350,y1:1206,x2:387,y2:1206},style:{stroke:'#0072BC',lineWidth:7,lineCap:'round'}},
 T('平均值',393,1206,12.5,LEG,'left'),mark('rect',383,1222.5,2.8,'#2BB24C'),T('煤山',393,1223,12.5,LEG,'left'),
 mark('circle',383,1239,3.6,'#FDB32C'),T('上寺',393,1239,12.5,LEG,'left'),mark('tri',383,1255,3.8,'#BE3A42'),T('罗甸',393,1256,12.5,LEG,'left'),
 T('✳',371,1272,9,'#EBD9E4'),T('✕',383,1272,9,'#6C54A3'),T('蓬莱滩',393,1273,12.5,LEG,'left'),
 // δ18O legend
 mark('circle',600,1255,3.8,'#6D6E71'),T('Chen等(2013)',608,1256.5,12.5,LEG,'left'),
 mark('circle',600,1275,3.8,'#00A651'),T('Chen等(2016)',608,1275.5,12.5,LEG,'left'),
 // Sr legend
 mark('rect',855,1192,3.5,'#1C5AA8'),T('Tierney (2010)',867,1192,12.5,LEG,'left'),
 mark('diamond',854,1208,4.5,'#F58A1F'),T('Cao等(2009)',865,1208,12.5,LEG,'left'),
 mark('circle',854,1228,4,'#2E3192'),T('Song等(2015)',867,1225,12.5,LEG,'left'),
 mark('tri',854,1242,4,'#1C9BD8'),T('Dudás等(2017)',867,1242.5,12.5,LEG,'left'),
 {type:'rect',z:51,shape:{x:840,y:1254,width:24,height:10},style:{fill:'#2FB457'}},gh(841,863,1259,1.3,INK),mark('circle',852,1259,3.8,'#ED1C24'),T('Korte等(2006)',867,1259,12.5,LEG,'left'),
 {type:'rect',z:51,shape:{x:840,y:1270,width:24,height:10},style:{fill:'#BCBEC0'}},gh(841,863,1275,1.3,INK),T('McArthur等(2012)',867,1275,12.5,LEG,'left')
];

const chart=echarts.init(document.getElementById('c'),null,{renderer:'canvas'});
chart.setOption({animation:false,backgroundColor:'#fff',textStyle:{fontFamily:FONT},
 grid:grids,xAxis:xAxes,yAxis:yAxes,series,graphic:{elements:graphic}});
</script></body></html>
